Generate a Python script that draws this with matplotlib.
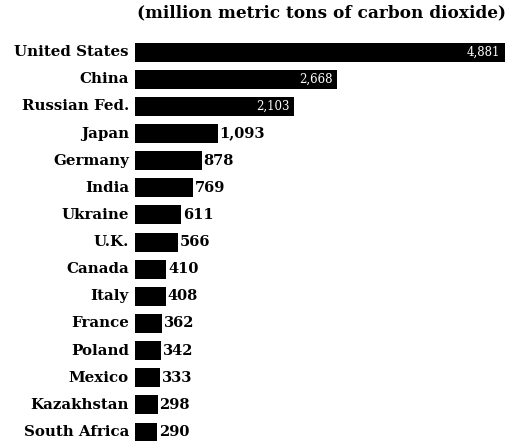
import matplotlib
matplotlib.use('Agg')
import matplotlib.pyplot as plt

# CO2 emissions, million metric tons
countries = ['United States', 'China', 'Russian Fed.', 'Japan', 'Germany', 'India',
             'Ukraine', 'U.K.', 'Canada', 'Italy', 'France', 'Poland', 'Mexico',
             'Kazakhstan', 'South Africa']
emissions = [4881, 2668, 2103, 1093, 878, 769, 611, 566, 410, 408, 362, 342, 333, 298, 290]
value_labels = ['4,881', '2,668', '2,103', '1,093', '878', '769', '611', '566', '410',
                '408', '362', '342', '333', '298', '290']

plt.rcParams['font.family'] = ['DejaVu Serif']

fig = plt.figure(figsize=(5.12, 4.41), dpi=100)
x0 = 135 / 512
ax = fig.add_axes([x0, 0.0, 1 - x0, 1 - 38 / 441])

pos = list(range(len(countries)))
ax.barh(pos, emissions, height=0.7, color='black')
ax.set_ylim(14.33, -0.52)
ax.set_xlim(0, 4881 * (512 - 135) / (505 - 135))
ax.axis('off')

for i, (v, lab) in enumerate(zip(emissions, value_labels)):
    if i < 3:
        ax.text(v - 60, i, lab, color='white', ha='right', va='center', fontsize=8.5)
    else:
        ax.text(v + 25, i, lab, color='black', ha='left', va='center',
                fontsize=10.5, fontweight='bold')

for i, name in enumerate(countries):
    ax.text(-80, i, name, ha='right', va='center', fontsize=10.8, fontweight='bold')

fig.text(506 / 512, 1 - 13 / 441, '(million metric tons of carbon dioxide)',
         ha='right', va='center', fontsize=12.2, fontweight='bold')

fig.savefig('out.png', dpi=100, facecolor='white')
